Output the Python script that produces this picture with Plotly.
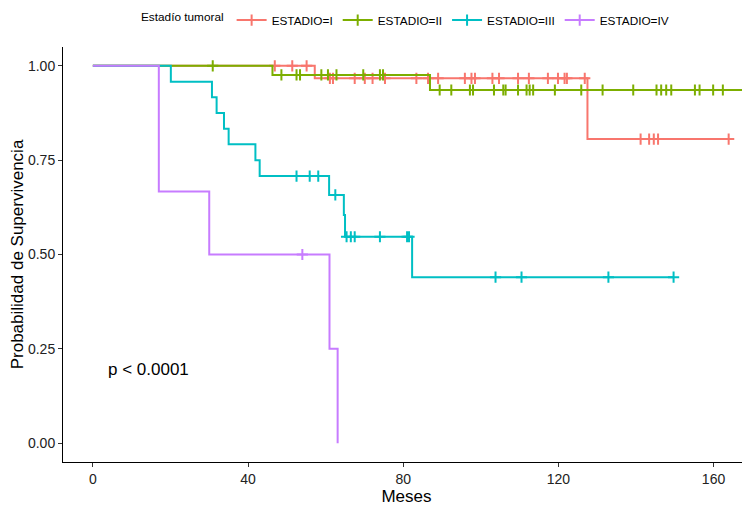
import plotly.graph_objects as go

# ---- data ----
groups = ["ESTADIO=I", "ESTADIO=II", "ESTADIO=III", "ESTADIO=IV"]
colors = ["#F8766D", "#7CAE00", "#00BFC4", "#C77CFF"]

# step curves: times and survival values
t_I = [0, 57.2, 127.5, 163.9]
s_I = [1.0, 0.967, 0.806, 0.806]
c_I_t = [46.9, 51.4, 55.1, 61.1, 61.9, 67.5, 70.1, 72.1, 75.3, 83.4, 86.4, 89.0,
         95.9, 97.6, 98.5, 103.0, 104.7, 109.6, 112.4, 117.3, 119.9, 121.6,
         122.2, 126.8, 141.2, 143.4, 144.6, 145.7, 163.9]
c_I_s = [1.0, 1.0, 1.0] + [0.967] * 21 + [0.806] * 5

t_II = [0, 46.3, 86.9, 169.5]
s_II = [1.0, 0.976, 0.936, 0.936]
c_II_t = [30.9, 48.6, 52.5, 53.4, 58.9, 60.6, 62.8, 69.7, 74.0, 74.8,
          89.4, 92.4, 97.2, 98.0, 103.4, 105.8, 106.4, 109.6, 111.8, 112.6,
          113.5, 119.1, 125.9, 131.4, 139.3, 145.3, 146.5, 147.8, 149.1,
          155.2, 156.4, 159.9, 162.4, 168.8]
c_II_s = [1.0] + [0.976] * 9 + [0.936] * 24

t_III = [0, 20.1, 30.7, 31.9, 33.8, 35.0, 41.9, 43.0, 60.9, 64.7, 65.0, 82.3, 149.7]
s_III = [1.0, 0.958, 0.917, 0.875, 0.833, 0.792, 0.750, 0.708, 0.658, 0.605, 0.547, 0.440, 0.440]
c_III_t = [52.5, 55.9, 58.1, 62.5, 65.4, 66.5, 67.5, 74.0, 81.0, 81.5,
           103.8, 110.5, 132.9, 149.7]
c_III_s = [0.708, 0.708, 0.708, 0.658] + [0.547] * 6 + [0.440] * 4

t_IV = [0, 17.0, 30.0, 61.0, 63.1]
s_IV = [1.0, 0.667, 0.5, 0.25, 0.0]
c_IV_t = [54.0]
c_IV_s = [0.5]

curves = [(t_I, s_I, c_I_t, c_I_s), (t_II, s_II, c_II_t, c_II_s),
          (t_III, s_III, c_III_t, c_III_s), (t_IV, s_IV, c_IV_t, c_IV_s)]

y_ticks = [0, 0.25, 0.5, 0.75, 1.0]
y_ticklabels = ["0.00", "0.25", "0.50", "0.75", "1.00"]
x_ticks = [0, 40, 80, 120, 160]

fig = go.Figure()

for name, col, (t, s, ct, cs) in zip(groups, colors, curves):
    fig.add_trace(go.Scatter(x=t, y=s, mode="lines", line=dict(color=col, width=2, shape="hv"),
                             showlegend=False, hoverinfo="skip"))
    fig.add_trace(go.Scatter(x=ct, y=cs, mode="markers",
                             marker=dict(symbol="cross-thin", size=8,
                                         line=dict(color=col, width=2)),
                             showlegend=False, hoverinfo="skip"))

for name, col in zip(groups, colors):
    fig.add_trace(go.Scatter(x=[None], y=[None], mode="lines+markers", name=name,
                             line=dict(color=col, width=2),
                             marker=dict(symbol="cross-thin", size=8,
                                         line=dict(color=col, width=2))))

fig.add_annotation(x=3.4, y=0.194, xref="x", yref="y", text="p < 0.0001",
                   showarrow=False, xanchor="left", yanchor="middle",
                   font=dict(size=17, color="black"))

fig.update_layout(
    width=742, height=502,
    margin=dict(l=55, r=0, t=39, b=48, autoexpand=False),
    paper_bgcolor="white", plot_bgcolor="white",
    font=dict(family="Liberation Sans, Arial, sans-serif", color="black"),
    legend=dict(orientation="h", x=0.5, xanchor="center", y=1.065, yanchor="middle",
                title=dict(text="Estadío tumoral", font=dict(size=11.8)),
                font=dict(size=11.8), itemwidth=30, tracegroupgap=0),
    xaxis=dict(range=[-7.7, 169.4], tickvals=x_ticks, showline=True, linecolor="black",
               linewidth=1, ticks="outside", ticklen=4, tickcolor="#333", showgrid=False,
               zeroline=False, tickfont=dict(size=14, color="#222"), automargin=False,
               title=dict(text="Meses", font=dict(size=17), standoff=4)),
    yaxis=dict(range=[-0.05, 1.05], tickvals=y_ticks, ticktext=y_ticklabels, showline=True,
               linecolor="black", linewidth=1, ticks="outside", ticklen=4, tickcolor="#333",
               showgrid=False, zeroline=False, tickfont=dict(size=14, color="#222"),
               automargin=False,
               title=dict(text="Probabilidad de Supervivencia", font=dict(size=17), standoff=4)),
)

fig.write_html("out.html")
